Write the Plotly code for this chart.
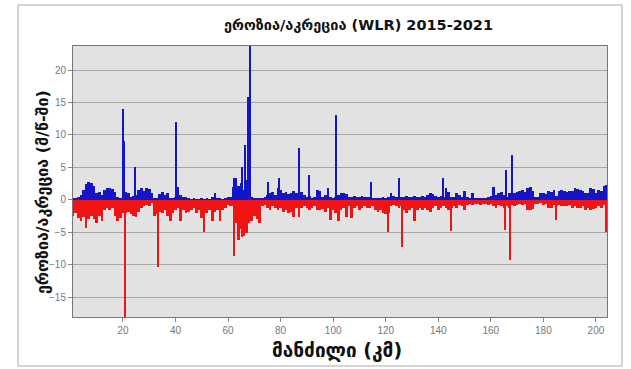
import plotly.graph_objects as go

# ---- data ----
km = list(range(1, 205))

blue_base = [
    0.2, 0.3, 0.5, 0.8, 1.5, 2.5, 2.8, 2.6, 2.2, 1.0,   # 1-10
    1.2, 0.8, 1.5, 1.8, 1.9, 1.6, 1.2, 0.5, 0.3, 1.0,   # 11-20
    1.2, 1.0, 0.5, 0.6, 0.8, 1.5, 1.8, 1.4, 1.9, 1.7,   # 21-30
    1.0, 0.3, 0.2, 0.9, 1.2, 0.8, 1.0, 0.3, 0.2, 0.5,   # 31-40
    2.0, 0.8, 0.4, 0.5, 0.2, 0.1, 0.2, 0.1, 0.1, 0.2,   # 41-50
    0.1, 0.2, 0.1, 0.4, 1.0, 0.3, 0.2, 0.1, 0.3, 0.4,   # 51-60
    0.4, 2.0, 3.4, 2.2, 2.6, 1.5, 3.0, 1.0, 0.5, 0.3,   # 61-70
    0.2, 0.3, 0.2, 0.4, 0.8, 1.0, 1.2, 0.8, 1.8, 1.5,   # 71-80
    1.0, 1.2, 0.9, 1.0, 1.3, 1.1, 1.0, 1.2, 0.8, 0.5,   # 81-90
    0.6, 0.3, 0.5, 1.5, 1.4, 0.5, 0.8, 1.8, 0.4, 0.3,   # 91-100
    0.5, 0.8, 1.0, 1.1, 0.9, 0.5, 0.4, 0.6, 0.5, 0.4,   # 101-110
    0.6, 0.5, 0.4, 0.5, 0.3, 0.3, 0.2, 0.3, 0.4, 0.3,   # 111-120
    0.4, 1.0, 0.6, 0.5, 0.6, 0.4, 0.5, 0.6, 0.4, 0.5,   # 121-130
    0.6, 0.5, 0.4, 0.6, 0.5, 0.8, 1.0, 0.9, 0.6, 0.5,   # 131-140
    0.6, 0.4, 1.8, 1.2, 0.5, 0.4, 1.0, 0.8, 0.5, 1.3,   # 141-150
    0.5, 0.3, 1.0, 0.3, 0.2, 0.3, 0.2, 0.3, 0.4, 0.6,   # 151-160
    2.0, 0.8, 1.0, 1.2, 0.8, 0.5, 1.0, 1.2, 1.0, 1.2,   # 161-170
    1.3, 1.5, 1.2, 1.8, 2.0, 1.4, 0.5, 0.4, 1.0, 1.1,   # 171-180
    0.9, 1.3, 1.2, 1.5, 0.6, 1.4, 1.5, 1.3, 1.2, 1.4,   # 181-190
    1.3, 1.8, 1.6, 1.5, 1.3, 1.0, 1.1, 1.8, 1.6, 1.0,   # 191-200
    1.5, 1.4, 2.2, 2.3,                                 # 201-204
]

red_base = [
    -2.5, -2.0, -2.8, -3.3, -2.6, -4.4, -3.0, -2.5, -3.0, -3.5,   # 1-10
    -2.5, -3.3, -1.5, -1.2, -1.5, -1.3, -2.5, -3.3, -2.8, -2.0,   # 11-20
    -2.0, -1.8, -2.2, -2.5, -2.6, -1.8, -1.2, -1.0, -0.8, -1.0,   # 21-30
    -0.5, -2.5, -2.2, -1.8, -2.0, -1.5, -2.5, -3.3, -2.0, -1.5,   # 31-40
    -1.2, -3.3, -1.5, -2.0, -1.8, -1.5, -1.3, -2.0, -1.6, -2.8,   # 41-50
    -2.0, -2.0, -1.5, -3.3, -1.8, -1.5, -3.3, -1.5, -1.2, -0.8,   # 51-60
    -1.0, -1.0, -3.5, -6.2, -4.5, -5.5, -5.1, -3.5, -3.3, -2.5,   # 61-70
    -3.0, -3.6, -1.0, -0.8, -1.2, -1.5, -1.0, -1.2, -1.5, -1.3,   # 71-80
    -1.8, -1.5, -2.0, -1.8, -2.6, -1.2, -2.6, -1.2, -1.0, -1.3,   # 81-90
    -1.5, -1.2, -1.0, -1.5, -1.6, -1.4, -1.8, -1.3, -3.1, -1.5,   # 91-100
    -2.0, -3.3, -1.5, -1.3, -2.6, -1.0, -2.8, -1.2, -1.0, -1.5,   # 101-110
    -1.2, -1.0, -1.3, -1.2, -1.0, -1.5, -1.8, -1.5, -2.0, -2.2,   # 111-120
    -2.0, -1.0, -0.8, -1.0, -1.2, -1.0, -1.5, -2.0, -1.5, -1.2,   # 121-130
    -3.3, -1.5, -1.2, -1.5, -1.3, -1.5, -1.8, -1.2, -1.0, -1.5,   # 131-140
    -1.3, -1.0, -1.2, -1.5, -1.3, -1.0, -1.2, -0.8, -1.0, -1.5,   # 141-150
    -0.8, -0.7, -0.8, -0.6, -0.7, -0.8, -0.7, -0.6, -0.8, -0.7,   # 151-160
    -1.0, -1.2, -0.8, -1.0, -1.2, -1.0, -1.2, -0.8, -1.0, -0.8,   # 161-170
    -0.6, -0.8, -0.7, -1.5, -1.6, -1.4, -0.6, -0.7, -0.5, -0.8,   # 171-180
    -0.6, -1.2, -1.3, -0.8, -1.0, -0.8, -1.0, -0.9, -1.0, -0.8,   # 181-190
    -1.2, -1.0, -1.3, -1.2, -1.0, -1.5, -1.3, -1.6, -1.4, -1.2,   # 191-200
    -1.0, -1.3, -0.8, -1.0,                                       # 201-204
]

blue_spike_x = [19.9, 20.5, 24.7, 40.2, 62.2, 65.2, 66.6, 67.5, 68.3,
                75.3, 79.4, 87.0, 91.0, 101.3, 114.3, 125.2, 141.7,
                160.7, 165.8, 168.2]
blue_spike_v = [14.0, 9.0, 5.0, 12.0, 3.4, 5.0, 8.4, 15.8, 24.5,
                2.8, 3.3, 8.0, 3.9, 13.1, 2.8, 3.4, 3.3,
                2.0, 4.6, 6.9]

red_spike_x = [20.8, 33.5, 51.0, 62.3, 63.8, 65.5, 121.0, 126.4, 144.8,
               165.4, 167.3, 184.7, 203.8]
red_spike_v = [-18.5, -10.3, -4.9, -8.6, -6.2, -5.8, -4.9, -7.2, -4.8,
               -4.6, -9.3, -3.1, -4.9]

x_ticks = [20, 40, 60, 80, 100, 120, 140, 160, 180, 200]
y_ticks = [-15, -10, -5, 0, 5, 10, 15, 20]

title_text = "ეროზია/აკრეცია (WLR) 2015-2021"
x_title = "მანძილი (კმ)"
y_title = "ეროზია/აკრეცია (მ/წ-ში)"

BLUE = "#1414c8"
RED = "#f01414"

fig = go.Figure()
fig.add_trace(go.Bar(x=km, y=red_base, width=1.0, marker=dict(color=RED, line=dict(width=0)), showlegend=False))
fig.add_trace(go.Bar(x=km, y=blue_base, width=1.0, marker=dict(color=BLUE, line=dict(width=0)), showlegend=False))
fig.add_trace(go.Bar(x=red_spike_x, y=red_spike_v, width=0.45, marker=dict(color=RED, line=dict(width=0)), showlegend=False))
fig.add_trace(go.Bar(x=blue_spike_x, y=blue_spike_v, width=0.45, marker=dict(color=BLUE, line=dict(width=0)), showlegend=False))

L, R, T, B = 73, 24, 46, 52
W, H = 631, 369
pw, ph = W - L - R, H - T - B

def px2paper_x(px):
    return (px - L) / pw

def py2paper_y(py):
    return (H - B - py) / ph

fig.update_layout(
    width=W, height=H,
    margin=dict(l=L, r=R, t=T, b=B),
    paper_bgcolor="white",
    plot_bgcolor="#e2e2e2",
    barmode="overlay",
    bargap=0,
    font=dict(family="DejaVu Sans", color="#222"),
)
fig.update_xaxes(
    range=[1.0, 204.2], tickvals=x_ticks, ticks="outside", ticklen=4,
    tickcolor="#888", tickfont=dict(family="Liberation Sans", size=10, color="#777"),
    showgrid=False, zeroline=False, showline=True, linecolor="#777", linewidth=1, mirror=True,
)
fig.update_yaxes(
    range=[-18.05, 23.7], tickvals=y_ticks, ticks="outside", ticklen=4,
    tickcolor="#888", tickfont=dict(family="Liberation Sans", size=10, color="#777"),
    showgrid=True, gridcolor="#a8a8a8", gridwidth=1, zeroline=False,
    showline=True, linecolor="#777", linewidth=1, mirror=True,
)

fig.add_shape(type="rect", xref="paper", yref="paper",
              x0=px2paper_x(18), x1=px2paper_x(622), y0=py2paper_y(366), y1=py2paper_y(5),
              line=dict(color="#c8c8c8", width=1.5), fillcolor="rgba(0,0,0,0)", layer="below")

fig.add_annotation(text="<b>" + title_text + "</b>", xref="paper", yref="paper",
                   x=px2paper_x(358), y=py2paper_y(25), xanchor="center", yanchor="middle",
                   showarrow=False, font=dict(family="DejaVu Sans", size=14.5, color="#111"))
fig.add_annotation(text="<b>" + x_title + "</b>", xref="paper", yref="paper",
                   x=px2paper_x(337), y=py2paper_y(350), xanchor="center", yanchor="middle",
                   showarrow=False, font=dict(family="DejaVu Sans", size=19, color="#111"))
fig.add_annotation(text="<b>" + y_title + "</b>", xref="paper", yref="paper",
                   x=px2paper_x(42), y=py2paper_y(192), xanchor="center", yanchor="middle",
                   showarrow=False, textangle=-90,
                   font=dict(family="DejaVu Sans", size=16, color="#111"))

fig.write_html("out.html")
